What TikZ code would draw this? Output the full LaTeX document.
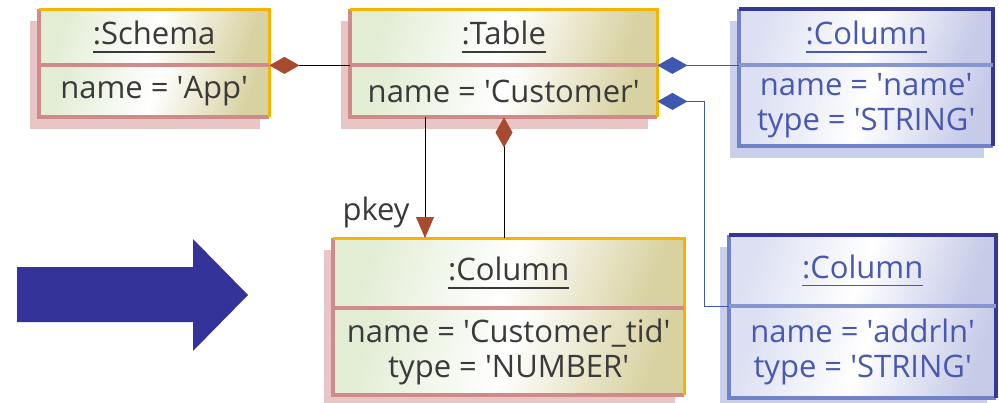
\documentclass[tikz,border=0pt]{standalone}
\usepackage{fontspec}
\setmainfont{Open Sans}
\usetikzlibrary{arrows.meta,calc}

\definecolor{yedge}{HTML}{F6B300}
\definecolor{pedge}{HTML}{D08A8A}
\definecolor{pshadow}{HTML}{E8C6C6}
\definecolor{yleft}{HTML}{E2EDD4}
\definecolor{yright}{HTML}{D8D2A2}
\definecolor{ytext}{HTML}{3A3A3A}
\definecolor{bdark}{HTML}{343894}
\definecolor{blight}{HTML}{7282C8}
\definecolor{bshadow}{HTML}{CAD0EC}
\definecolor{bleft}{HTML}{DCE0F2}
\definecolor{bright}{HTML}{C6CBE8}
\definecolor{btext}{HTML}{4A58B0}
\definecolor{rust}{HTML}{A84A30}
\definecolor{linkblue}{HTML}{3C58B0}
\definecolor{bigblue}{HTML}{333399}

% underline set a fixed distance below the baseline
\newcommand\ulin[1]{\setbox0\hbox{#1}\rlap{\vrule height -6.5pt depth 8pt width \wd0}\box0}

\tikzset{
  objfont/.style={font=\fontsize{31}{35}\selectfont},
  ypart/.style={inner sep=0pt, anchor=north west, objfont, text=ytext, align=center,
    left color=yleft, right color=yright, middle color=white, shading angle=70},
  bpart/.style={inner sep=0pt, anchor=north west, objfont, text=btext, align=center,
    left color=bleft, right color=bright, middle color=white, shading angle=70},
  yshadow/.style={fill=pshadow},
  bshadow/.style={fill=bshadow},
  ylight/.style={draw=pedge, line width=4pt},
  ydark/.style={draw=yedge, line width=3pt},
  ydiv/.style={draw=pedge, line width=4pt},
  blight/.style={draw=blight, line width=4pt},
  bdark/.style={draw=bdark, line width=4pt},
  bdiv/.style={draw=blight!85, line width=4pt},
  ycomp/.style={draw=black, line width=0.9pt,
    arrows={Diamond[length=30pt,width=17pt,color=rust]-}},
  bcomp/.style={draw=linkblue, line width=0.9pt,
    arrows={Diamond[length=30pt,width=17pt,color=linkblue]-}},
  assoc/.style={draw=black, line width=0.9pt,
    arrows={-Triangle[length=21pt,width=18pt,color=rust]}},
}

% object box: name, theme, x1, y1, x2, y-divider, y2, title, attributes
\newcommand\objbox[9]{%
  \fill[#2shadow] (#3-9,#4+12) rectangle (#5-9,#7+12);
  \node[#2part, minimum width={(#5-#3)*1pt}, minimum height={(#6-#4)*1pt}] (#1-t) at (#3,#4) {\ulin{#8}};
  \node[#2part, minimum width={(#5-#3)*1pt}, minimum height={(#7-#6)*1pt}] (#1-a) at (#3,#6) {#9};
  \draw[#2light] (#1-t.north west) -- (#1-a.south west) -- (#1-a.south east);
  \draw[#2dark] (#1-t.north west) -- (#1-t.north east) -- (#1-a.south east);
  \draw[#2div] (#1-t.south west) -- (#1-t.south east);
}

\newcommand\q{\textquotesingle}

\begin{document}
\begin{tikzpicture}[x=1pt,y=-1pt]
\useasboundingbox (0,0) rectangle (999,402);

\objbox{schema}{y}{39}{9}{269}{65}{117}{:Schema}{name = \q App\q}
\objbox{table}{y}{350}{9}{657}{65}{117}{:Table}{name = \q Customer\q}
\objbox{colname}{b}{739}{9}{993}{65}{146}{:Column}{name = \q name\q\\type = \q STRING\q}
\objbox{cid}{y}{333}{238}{684}{308}{395}{:Column}{name = \q Customer\_tid\q\\type = \q NUMBER\q}
\objbox{addrln}{b}{729}{235}{996}{306}{398}{:Column}{name = \q addrln\q\\type = \q STRING\q}

% links between the objects
\draw[ycomp] (schema-t.south east) -- (table-t.south west);
\draw[bcomp] (table-t.south east) -- (colname-t.south west);
\draw[bcomp] ([yshift=-36pt]table-t.south east) -- ++(47,0) |- (addrln-t.south west);
\draw[assoc] ($(table-a.south west)+(75,0)$) -- ($(cid-t.north west)+(92,0)$)
  node[pos=0.79, left=15pt, inner sep=0pt, objfont, text=ytext] (pkey) {pkey};
\draw[ycomp] ($(table-a.south west)+(154,0)$) -- ($(cid-t.north west)+(171,0)$);

% transformation arrow
\fill[bigblue] (17,267) -- (193,267) -- (193,239) -- (248,295) -- (193,351)
  -- (193,322) -- (17,322) -- cycle;
\end{tikzpicture}
\end{document}
